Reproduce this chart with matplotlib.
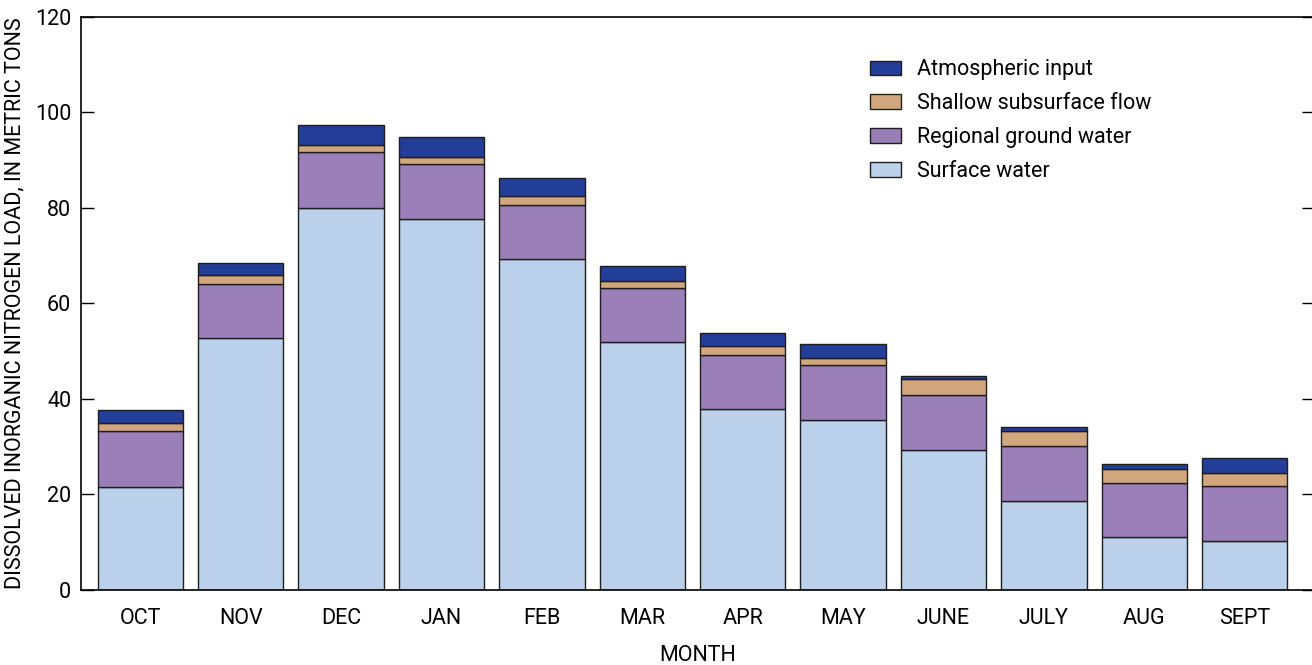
import matplotlib.pyplot as plt
import numpy as np

# ====== DATA ======
months = ["OCT", "NOV", "DEC", "JAN", "FEB", "MAR", "APR", "MAY", "JUNE", "JULY", "AUG", "SEPT"]
surface_water = [21.5, 52.7, 80.0, 77.7, 69.2, 51.8, 37.8, 35.5, 29.3, 18.6, 10.9, 10.2]
regional_gw = [11.7, 11.3, 11.8, 11.4, 11.4, 11.4, 11.4, 11.5, 11.5, 11.5, 11.4, 11.4]
shallow_flow = [1.7, 1.9, 1.4, 1.5, 1.9, 1.5, 1.9, 1.5, 3.3, 3.2, 3.0, 2.9]
atmospheric = [2.7, 2.6, 4.2, 4.2, 3.8, 3.1, 2.6, 3.0, 0.7, 0.8, 1.1, 3.0]
y_ticks = [0, 20, 40, 60, 80, 100, 120]
# ==================

plt.rcParams['font.family'] = ['Roboto', 'DejaVu Sans']
fs = 15.5

fig = plt.figure(figsize=(13.12, 6.65), dpi=100)
ax = fig.add_axes([81/1312, (665-589.5)/665, (1314-81)/1312, (589.5-17)/665])

x = np.arange(len(months))
w = 0.85
ec = '#1e1e1e'
bottom = np.zeros(len(months))
layers = [
    (surface_water, '#BBD0EB', 'Surface water'),
    (regional_gw, '#9B7FB8', 'Regional ground water'),
    (shallow_flow, '#D3A77D', 'Shallow subsurface flow'),
    (atmospheric, '#233E99', 'Atmospheric input'),
]
handles = []
for vals, col, lab in layers:
    b = ax.bar(x, vals, w, bottom=bottom, color=col, edgecolor=ec, linewidth=1.0, label=lab)
    handles.append(b)
    bottom += np.array(vals)

ax.set_xlim(-0.59, 11.69)
ax.set_ylim(0, 120)
ax.set_yticks(y_ticks)
ax.set_xticks(x)
ax.set_xticklabels(months)
ax.tick_params(axis='y', direction='in', length=9, width=1, right=True, labelsize=fs, pad=7)
ax.tick_params(axis='x', length=0, labelsize=fs, pad=13)
for s in ax.spines.values():
    s.set_linewidth(1.2)

ax.set_xlabel("MONTH", fontsize=fs, labelpad=12)
ax.set_ylabel("DISSOLVED INORGANIC NITROGEN LOAD, IN METRIC TONS", fontsize=fs, labelpad=7)

leg = ax.legend(handles[::-1], [h.get_label() for h in handles[::-1]],
                loc='upper left', bbox_to_anchor=(0.624, 0.96), frameon=False,
                fontsize=fs, handlelength=1.45, handleheight=0.65, labelspacing=0.6,
                handletextpad=0.75)

plt.savefig("out.png", dpi=100)
